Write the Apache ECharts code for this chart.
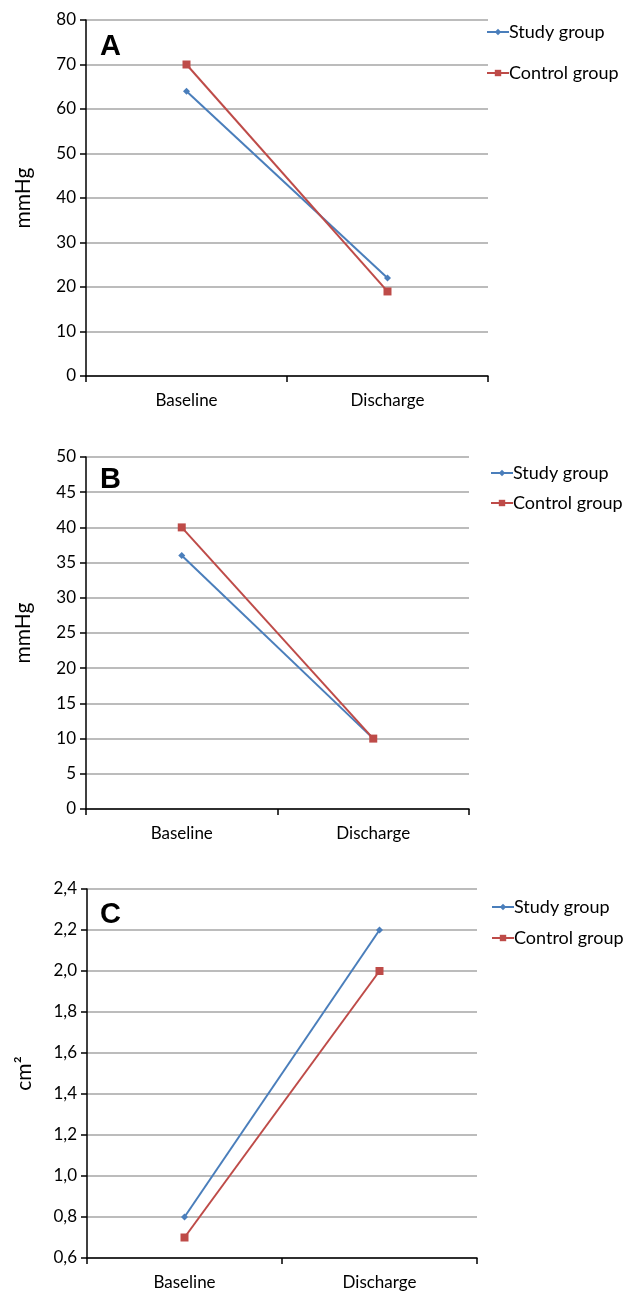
<!DOCTYPE html>
<html>
<head>
<meta charset="utf-8">
<script src="https://cdn.jsdelivr.net/npm/echarts@6/dist/echarts.min.js"></script>
<style>
  html, body { margin: 0; padding: 0; background: #fff; }
  #main { width: 629px; height: 1294px; }
</style>
</head>
<body>
<div id="main"></div>
<script>
  // categories
  var categories = ['Baseline', 'Discharge'];
  var seriesNames = ['Study group', 'Control group'];

  // panel A (mmHg)
  var studyA = [64, 22];
  var controlA = [70, 19];
  // panel B (mmHg)
  var studyB = [36, 10];
  var controlB = [40, 10];
  // panel C (cm²)
  var studyC = [0.8, 2.2];
  var controlC = [0.7, 2.0];

  var panelLetters = ['A', 'B', 'C'];
  var yNames = ['mmHg', 'mmHg', 'cm²'];

  var FONT = 'Lato';
  var BLUE = '#4a7ebb';
  var RED = '#be4b48';

  var grids = [
    {left: 86, right: 141, top: 20, bottom: 918},
    {left: 86, right: 160, top: 457, bottom: 485},
    {left: 87, right: 152, top: 889, bottom: 36}
  ];

  function xAxis(i) {
    return {
      type: 'category',
      gridIndex: i,
      data: categories,
      boundaryGap: true,
      axisLine: {lineStyle: {color: '#000', width: 1.5}},
      axisTick: {show: true, inside: false, length: 6, lineStyle: {color: '#000', width: 1.5}},
      axisLabel: {color: '#000', fontFamily: FONT, fontSize: 17, margin: 16},
      splitLine: {show: false}
    };
  }

  function yAxis(i, min, max, interval, fmt) {
    return {
      type: 'value',
      gridIndex: i,
      min: min,
      max: max,
      interval: interval,
      name: yNames[i],
      nameLocation: 'middle',
      nameGap: 52,
      nameTextStyle: {color: '#000', fontFamily: FONT, fontSize: 21},
      axisLine: {show: true, lineStyle: {color: '#000', width: 1.5}},
      axisTick: {show: true, length: 6, lineStyle: {color: '#000', width: 1.5}},
      axisLabel: {color: '#000', fontFamily: FONT, fontSize: 17, margin: 10, formatter: fmt},
      splitLine: {show: true, lineStyle: {color: '#a6a6a6', width: 1.5}}
    };
  }

  function line(name, data, i, color, symbol, size) {
    return {
      name: name,
      type: 'line',
      xAxisIndex: i,
      yAxisIndex: i,
      data: data,
      symbol: symbol,
      symbolSize: size,
      lineStyle: {color: color, width: 2},
      itemStyle: {color: color},
      animation: false
    };
  }

  function legend(top, left, gap) {
    return {
      top: top,
      left: left,
      orient: 'vertical',
      itemWidth: 22,
      itemHeight: 8,
      itemGap: gap,
      data: seriesNames,
      textStyle: {color: '#000', fontFamily: FONT, fontSize: 18, padding: [0, 0, 0, -5]}
    };
  }

  var commaFmt = function (v) { return v.toFixed(1).replace('.', ','); };

  var option = {
    backgroundColor: '#fff',
    animation: false,
    grid: grids,
    xAxis: [xAxis(0), xAxis(1), xAxis(2)],
    yAxis: [
      yAxis(0, 0, 80, 10),
      yAxis(1, 0, 50, 5),
      yAxis(2, 0.6, 2.4, 0.2, commaFmt)
    ],
    legend: [
      legend(18, 481, 23),
      legend(459, 485, 12),
      legend(893, 486, 13)
    ],
    graphic: [
      {type: 'text', left: 100, top: 32, style: {text: panelLetters[0], fontFamily: 'Liberation Sans', fontWeight: 'bold', fontSize: 29, fill: '#000'}},
      {type: 'text', left: 100, top: 465, style: {text: panelLetters[1], fontFamily: 'Liberation Sans', fontWeight: 'bold', fontSize: 29, fill: '#000'}},
      {type: 'text', left: 100, top: 900, style: {text: panelLetters[2], fontFamily: 'Liberation Sans', fontWeight: 'bold', fontSize: 29, fill: '#000'}}
    ],
    series: [
      line(seriesNames[0], studyA, 0, BLUE, 'diamond', 7),
      line(seriesNames[1], controlA, 0, RED, 'rect', 8),
      line(seriesNames[0], studyB, 1, BLUE, 'diamond', 7),
      line(seriesNames[1], controlB, 1, RED, 'rect', 8),
      line(seriesNames[0], studyC, 2, BLUE, 'diamond', 7),
      line(seriesNames[1], controlC, 2, RED, 'rect', 8)
    ]
  };

  var chart = echarts.init(document.getElementById('main'));
  chart.setOption(option);
</script>
</body>
</html>
